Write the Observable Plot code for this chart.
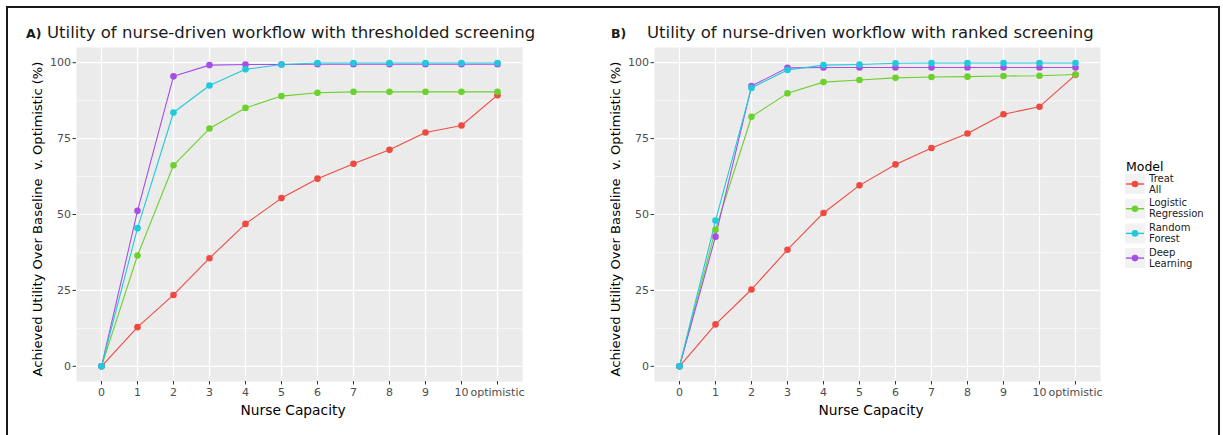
<!DOCTYPE html>
<html>
<head>
<meta charset="utf-8">
<script src="https://cdn.jsdelivr.net/npm/d3@7"></script>
<script src="https://cdn.jsdelivr.net/npm/@observablehq/plot@0.6"></script>
<style>
  html, body { margin: 0; padding: 0; background: #fff; }
  #root { position: relative; width: 1223px; height: 435px; overflow: hidden; font-family: "DejaVu Sans", sans-serif; }
  #root > svg.panel { position: absolute; top: 0; }
  #overlay { position: absolute; left: 0; top: 0; pointer-events: none; }
</style>
</head>
<body>
<div id="root"></div>
<script>
// ---- data ----
const capacity = ["0","1","2","3","4","5","6","7","8","9","10","optimistic"];
const models = ["Treat All","Logistic Regression","Random Forest","Deep Learning"];
const modelLines = [["Treat","All"],["Logistic","Regression"],["Random","Forest"],["Deep","Learning"]];
const modelColors = ["#ef4a42","#6bd22d","#1fcadb","#a64fe6"];
const yMajorTicks = [0,25,50,75,100];
const yMinorTicks = [12.5,37.5,62.5,87.5];

// Panel A: thresholded screening
const threshTreatAll = [0,12.9,23.5,35.6,46.9,55.4,61.8,66.7,71.3,77.0,79.3,89.3];
const threshLogReg   = [0,36.5,66.2,78.3,85.1,89.0,90.1,90.4,90.4,90.4,90.4,90.4];
const threshRandFor  = [0,45.5,83.6,92.5,97.8,99.4,99.9,99.9,99.9,99.9,99.9,99.9];
const threshDeepLrn  = [0,51.2,95.5,99.2,99.4,99.4,99.5,99.5,99.5,99.5,99.5,99.5];

// Panel B: ranked screening
const rankTreatAll = [0,13.8,25.3,38.4,50.5,59.6,66.5,71.9,76.7,83.0,85.5,96.0];
const rankLogReg   = [0,45.0,82.2,89.9,93.6,94.3,95.0,95.3,95.4,95.6,95.7,96.1];
const rankRandFor  = [0,48.0,91.7,97.6,99.2,99.4,99.8,99.9,99.9,99.9,99.9,99.9];
const rankDeepLrn  = [0,42.7,92.3,98.3,98.4,98.4,98.4,98.4,98.4,98.4,98.4,98.4];

// draw order (cyan ends on top as in the reference)
const drawOrder = [0,1,3,2];

function rows(series) {
  return drawOrder.flatMap(i => capacity.map((c, j) => ({capacity: c, value: series[i][j], model: models[i]})));
}

function panel(series, left) {
  const data = rows(series);
  const svg = Plot.plot({
    width: 600, height: 435,
    marginLeft: 76, marginRight: 78, marginTop: 47, marginBottom: 54,
    style: {background: "transparent", fontFamily: "DejaVu Sans", fontSize: "11px", color: "#4d4d4d", overflow: "visible"},
    x: {type: "point", domain: capacity, padding: 0.6, label: null},
    y: {domain: [-5, 105], label: null},
    color: {domain: models, range: modelColors},
    marks: [
      Plot.frame({fill: "#ebebeb", stroke: null}),
      Plot.ruleY(yMinorTicks, {stroke: "#fff", strokeWidth: 0.6}),
      Plot.ruleY(yMajorTicks, {stroke: "#fff", strokeWidth: 1.2}),
      Plot.ruleX(capacity, {stroke: "#fff", strokeWidth: 1.2}),
      Plot.axisY(yMajorTicks, {tickSize: 3.5, tickPadding: 2, stroke: "#333", fill: "#4d4d4d", label: null, fontSize: 11}),
      Plot.axisX({tickSize: 3.5, tickPadding: 3, stroke: "#333", fill: "#4d4d4d", label: null, fontSize: 11}),
      Plot.line(data, {x: "capacity", y: "value", stroke: "model", z: "model", strokeWidth: 1.1}),
      Plot.dot(data, {x: "capacity", y: "value", fill: "model", r: 3.3})
    ]
  });
  svg.classList.add("panel");
  svg.style.left = left + "px";
  return svg;
}

const root = document.getElementById("root");
root.appendChild(panel([threshTreatAll, threshLogReg, threshRandFor, threshDeepLrn], 0));
root.appendChild(panel([rankTreatAll, rankLogReg, rankRandFor, rankDeepLrn], 578));

// ---- overlay: border, titles, axis titles, legend ----
const ov = d3.select(root).append("svg").attr("id", "overlay").attr("width", 1223).attr("height", 435)
  .style("font-family", "DejaVu Sans");

ov.append("rect").attr("x", 7).attr("y", 7).attr("width", 1212).attr("height", 450)
  .attr("fill", "none").attr("stroke", "#1a1a1a").attr("stroke-width", 2);

const titles = [
  {tag: "A)", tagX: 26, x: 47, text: "Utility of nurse-driven workflow with thresholded screening"},
  {tag: "B)", tagX: 611, x: 647, text: "Utility of nurse-driven workflow with ranked screening"}
];
titles.forEach(t => {
  ov.append("text").attr("x", t.tagX).attr("y", 38).attr("font-size", 12.5).attr("font-weight", "bold").attr("fill", "#1a1a1a").text(t.tag);
  ov.append("text").attr("x", t.x).attr("y", 38).attr("font-size", 16.5).attr("fill", "#1a1a1a").text(t.text);
});

const yTitle = "Achieved Utility Over Baseline\u00a0 v. Optimistic (%)";
[42, 620].forEach(x => {
  ov.append("text").attr("transform", `translate(${x},219) rotate(-90)`).attr("text-anchor", "middle")
    .attr("font-size", 13.1).attr("fill", "#000").text(yTitle);
});
[293, 871].forEach(x => {
  ov.append("text").attr("x", x).attr("y", 415).attr("text-anchor", "middle")
    .attr("font-size", 13.8).attr("fill", "#000").text("Nurse Capacity");
});

// legend
const lg = ov.append("g");
lg.append("text").attr("x", 1126).attr("y", 171).attr("font-size", 12.5).attr("fill", "#000").text("Model");
models.forEach((m, i) => {
  const cy = 184 + i * 24.7;
  lg.append("rect").attr("x", 1125).attr("y", cy - 10).attr("width", 20).attr("height", 20).attr("fill", "#f2f2f2");
  lg.append("line").attr("x1", 1126).attr("x2", 1144).attr("y1", cy).attr("y2", cy).attr("stroke", modelColors[i]).attr("stroke-width", 1.4);
  lg.append("circle").attr("cx", 1135).attr("cy", cy).attr("r", 3.3).attr("fill", modelColors[i]);
  modelLines[i].forEach((w, k) => {
    lg.append("text").attr("font-size", 10).attr("fill", "#1a1a1a")
      .attr("x", 1149).attr("y", cy - 2.5 + k * 11).text(w);
  });
});
</script>
</body>
</html>
